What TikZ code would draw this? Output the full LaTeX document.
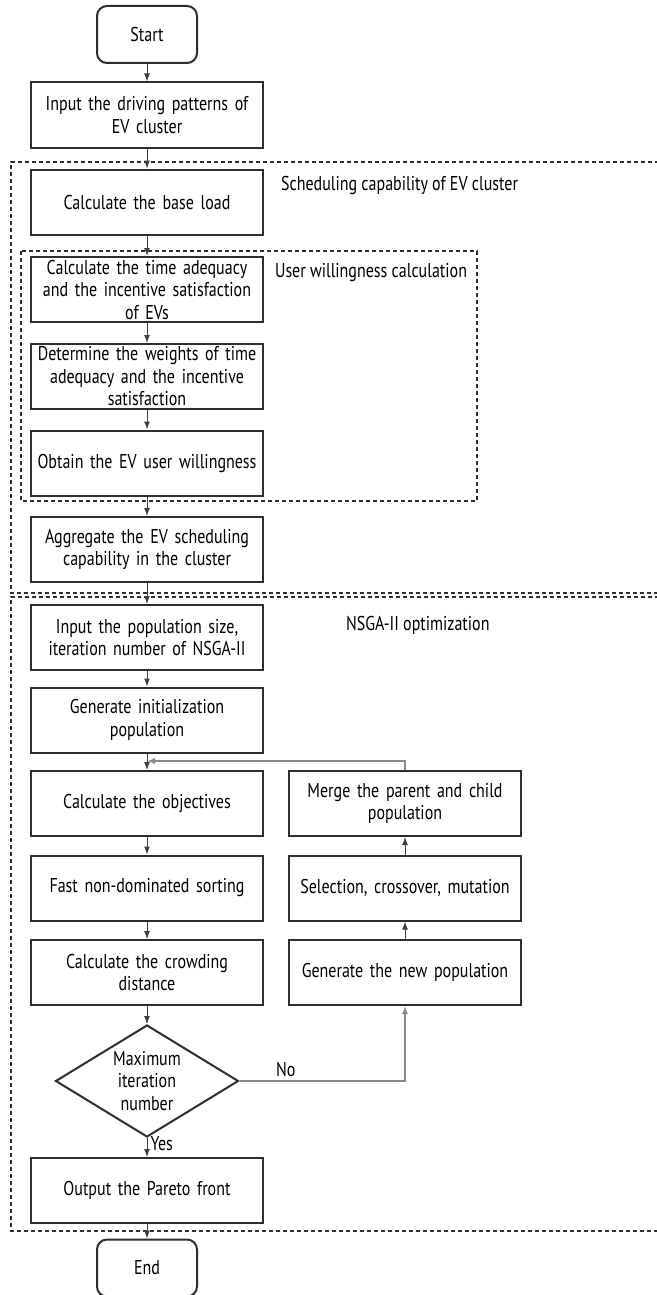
\documentclass[tikz,border=0pt]{standalone}
\usepackage{fontspec}
\setmainfont{PT Sans}[FakeStretch=0.8]
\usetikzlibrary{arrows.meta,shapes.geometric}

\definecolor{boxline}{HTML}{2E2E2E}
\definecolor{flowline}{HTML}{404040}
\definecolor{loopline}{HTML}{8A8A8A}

\begin{document}
\begin{tikzpicture}[
    x=0.5pt, y=-0.5pt,
    stepbox/.style={rectangle, draw=boxline, line width=1pt, fill=white, minimum width=116pt, minimum height=32.5pt, inner xsep=1pt, inner ysep=0pt, text width=112pt, align=center, font=\fontsize{10}{11.25}\selectfont},
    term/.style={rectangle, draw=boxline, line width=1pt, fill=white, rounded corners=5pt, minimum width=50pt, minimum height=28.5pt, font=\fontsize{10}{11.25}\selectfont},
    decision/.style={diamond, draw=boxline, line width=1pt, fill=white, aspect=1.63, inner sep=0pt, minimum width=91.5pt, minimum height=56pt, align=center, font=\fontsize{10}{11.25}\selectfont},
    flow/.style={draw=flowline, line width=0.5pt, -{Latex[length=4pt,width=3pt]}},
    loopflow/.style={draw=loopline, line width=0.6pt, -{Latex[length=4pt,width=3pt]}},
    grp/.style={draw=boxline, line width=0.6pt, dash pattern=on 2pt off 1.5pt},
    grouplabel/.style={font=\fontsize{10}{11.25}\selectfont, anchor=west}
]
\useasboundingbox (0,0) rectangle (657,1295);

% Group boxes first (background)
\draw[grp] (680,162) -- (11,162) -- (11,593) -- (680,593);
\draw[grp] (680,597) -- (11,597) -- (11,1231) -- (680,1231);
\draw[grp] (21,251) rectangle (477,501);

% Group labels
\node[grouplabel] (lblsched) at (274,186) {Scheduling capability of EV cluster};
\node[grouplabel] (lbluser) at (268,273) {User willingness calculation};
\node[grouplabel] (lblnsga) at (339,625) {NSGA-II optimization};

% Main column
\node[term] (start) at (147,34.5) {Start};
\node[stepbox] (driving) at (147,115) {Input the driving patterns of\\EV cluster};
\node[stepbox] (baseload) at (147,202) {Calculate the base load};
\node[stepbox] (adequacy) at (147,289.5) {Calculate the time adequacy\\and the incentive satisfaction\\of EVs};
\node[stepbox] (weights) at (147,376.5) {Determine the weights of time\\adequacy and the incentive\\satisfaction};
\node[stepbox] (willing) at (147,463) {Obtain the EV user willingness};
\node[stepbox] (aggregate) at (147,549.5) {Aggregate the EV scheduling\\capability in the cluster};
\node[stepbox] (popsize) at (147,637.5) {Input the population size,\\iteration number of NSGA-II};
\node[stepbox] (initpop) at (147,720) {Generate initialization\\population};
\node[stepbox] (objectives) at (147,803.5) {Calculate the objectives};
\node[stepbox] (sorting) at (147,888) {Fast non-dominated sorting};
\node[stepbox] (crowding) at (147,972.5) {Calculate the crowding\\distance};
\node[decision] (maxiter) at (147,1081) {Maximum\\iteration\\number};
\node[stepbox] (pareto) at (147,1190.5) {Output the Pareto front};
\node[term] (finish) at (147,1268) {End};

% Right column
\node[stepbox] (merge) at (405,803.5) {Merge the parent and child\\population};
\node[stepbox] (selection) at (405,888) {Selection, crossover, mutation};
\node[stepbox] (newpop) at (405,972.5) {Generate the new population};

% Connectors
\draw[flow] (start) -- (driving);
\draw[flow] (driving) -- (baseload);
\draw[flow] (baseload) -- (adequacy);
\draw[flow] (adequacy) -- (weights);
\draw[flow] (weights) -- (willing);
\draw[flow] (willing) -- (aggregate);
\draw[flow] (aggregate) -- (popsize);
\draw[flow] (popsize) -- (initpop);
\draw[flow] (initpop) -- (objectives);
\draw[flow] (objectives) -- (sorting);
\draw[flow] (sorting) -- (crowding);
\draw[flow] (crowding) -- (maxiter);
\draw[flow] (maxiter) -- node[right, pos=0.3, inner sep=1.5pt, font=\fontsize{10}{11.25}\selectfont] {Yes} (pareto);
\draw[flow] (pareto) -- (finish);

% Loop back
\coordinate (loopin) at (147,761);
\draw[loopflow] (maxiter.east) -| node[pos=0.14, above, inner sep=2pt, font=\fontsize{10}{11.25}\selectfont] {No} (newpop.south);
\draw[flow] (newpop) -- (selection);
\draw[flow] (selection) -- (merge);
\draw[loopflow] (merge.north) |- (loopin);

\end{tikzpicture}
\end{document}
